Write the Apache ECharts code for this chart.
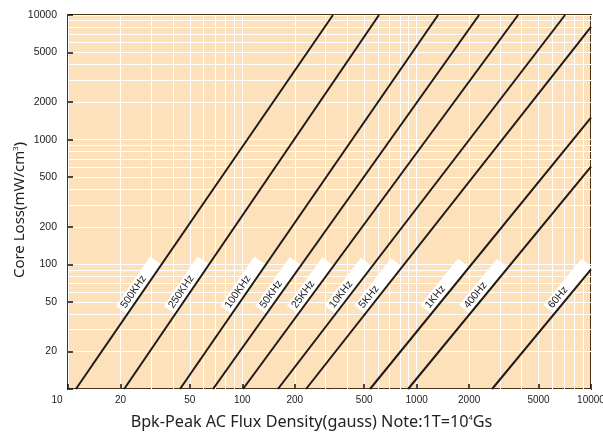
<!DOCTYPE html>
<html><head><meta charset="utf-8">
<script src="https://cdn.jsdelivr.net/npm/echarts@6/dist/echarts.min.js"></script>
<style>html,body{margin:0;padding:0;background:#fff}#c{width:603px;height:434px}</style>
</head><body><div id="c"></div>
<script>
// Frequency curves: each is a straight line in log-log space, given by its two ends
const freqLabels = ['500KHz','250KHz','100KHz','50KHz','25KHz','10KHz','5KHz','1KHz','400Hz','60Hz'];
const fluxStart = [11.1, 21.0, 43.9, 67.9, 100.9, 160, 232, 540, 893, 2707];   // gauss, at loss = 10
const lossStart = [10, 10, 10, 10, 10, 10, 10, 10, 10, 10];
const fluxEnd   = [331, 608, 1327, 2280, 3817, 7100, 10000, 10000, 10000, 10000];
const lossEnd   = [10000, 10000, 10000, 10000, 10000, 10000, 8020, 1500, 608, 91];
const labelLoss = 40; // loss level where the curve labels start

const xTickValues = [10, 20, 50, 100, 200, 500, 1000, 2000, 5000, 10000];
const yTickValues = [10, 20, 50, 100, 200, 500, 1000, 2000, 5000, 10000];
const yLabelValues = [20, 50, 100, 200, 500, 1000, 2000, 5000, 10000];
const gridMultipliers = [1, 2, 3, 4, 5, 6, 7, 8, 9];
const gridDecades = [10, 100, 1000];

const L = Math.log10;
const gridValues = [];
gridDecades.forEach(d => gridMultipliers.forEach(m => gridValues.push(L(d * m))));
gridValues.push(L(10000));

const fmt = v => String(Math.round(Math.pow(10, v)));
const chart = echarts.init(document.getElementById('c'), null, {renderer: 'canvas'});

const series = freqLabels.map((name, i) => ({
  name, type: 'line', xAxisIndex: 0, yAxisIndex: 0, symbol: 'none', silent: true,
  lineStyle: {color: '#1f1a17', width: 2},
  data: [[L(fluxStart[i]), L(lossStart[i])], [L(fluxEnd[i]), L(lossEnd[i])]]
}));

chart.setOption({
  animation: false,
  grid: {left: 68, right: 12, top: 15, bottom: 45, show: true, containLabel: false,
         outerBoundsMode: 'none',
         backgroundColor: '#fde1ba', borderColor: '#4a3418', borderWidth: 2},
  xAxis: [{
    type: 'value', min: 1, max: 4, position: 'bottom',
    name: 'Bpk-Peak AC Flux Density(gauss) Note:1T=10{sup|4}Gs',
    nameLocation: 'middle', nameGap: 25,
    nameTextStyle: {fontFamily: 'Noto Sans', fontSize: 16.2, color: '#222', padding: [0, 36, 0, 0],
      rich: {sup: {fontSize: 7.5, verticalAlign: 'top', padding: [0, 0, 9, 0], fontFamily: 'Noto Sans', color: '#222'}}},
    axisLine: {show: false},
    axisTick: {show: false, customValues: gridValues},
    splitLine: {show: true, lineStyle: {color: '#ffffff', width: 1}},
    axisLabel: {customValues: xTickValues.map(L), margin: 6,
      fontFamily: 'Liberation Sans', fontSize: 10, color: '#222',
      formatter: v => { const s = fmt(v); return s === '10' ? '{s|10}' : s; },
      rich: {s: {fontFamily: 'Liberation Sans', fontSize: 10, color: '#222', padding: [0, 22, 0, 0]}}}
  }, {
    type: 'value', min: 1, max: 4, position: 'bottom',
    axisLine: {show: false}, splitLine: {show: false}, axisLabel: {show: false},
    axisTick: {show: true, inside: true, length: 5, customValues: xTickValues.map(L),
      lineStyle: {color: '#111', width: 1.5}}
  }],
  yAxis: [{
    type: 'value', min: 1, max: 4, position: 'left',
    name: 'Core Loss(mW/cm{sup|3}){g|}', nameLocation: 'middle', nameGap: 40,
    nameMoveOverlap: false,
    nameTextStyle: {fontFamily: 'Noto Sans', fontSize: 15, color: '#222',
      rich: {sup: {fontSize: 7.5, verticalAlign: 'top', padding: [0, 0, 8, 0], fontFamily: 'Noto Sans', color: '#222'},
             g: {width: 16}}},
    axisLine: {show: false},
    axisTick: {show: false, customValues: gridValues},
    splitLine: {show: true, lineStyle: {color: '#ffffff', width: 1}},
    axisLabel: {customValues: yLabelValues.map(L), margin: 11,
      fontFamily: 'Liberation Sans', fontSize: 10.5, color: '#222', formatter: fmt}
  }, {
    type: 'value', min: 1, max: 4, position: 'left',
    axisLine: {show: false}, splitLine: {show: false}, axisLabel: {show: false},
    axisTick: {show: true, inside: true, length: 5, customValues: yTickValues.map(L),
      lineStyle: {color: '#111', width: 1.5}}
  }],
  series
});

// curve labels: white boxes rotated along each curve
const yT = chart.convertToPixel({xAxisIndex: 0, yAxisIndex: 0}, [1, L(labelLoss)])[1];
const graphics = freqLabels.map((name, i) => {
  const p0 = chart.convertToPixel({xAxisIndex: 0, yAxisIndex: 0}, [L(fluxStart[i]), L(lossStart[i])]);
  const p1 = chart.convertToPixel({xAxisIndex: 0, yAxisIndex: 0}, [L(fluxEnd[i]), L(lossEnd[i])]);
  const ang = Math.atan2(p0[1] - p1[1], p1[0] - p0[0]);
  const t = (p0[1] - yT) / (p0[1] - p1[1]);
  const ax = p0[0] + t * (p1[0] - p0[0]);
  return {
    type: 'group', x: ax, y: yT, rotation: ang, z: 100, silent: true,
    children: [
      {type: 'rect', shape: {x: 0, y: -14, width: 60, height: 13}, style: {fill: '#ffffff'}},
      {type: 'text', x: 3, y: -7.5, style: {text: name, fill: '#222', font: '10.5px "Liberation Sans"', verticalAlign: 'middle', align: 'left'}}
    ]
  };
});
chart.setOption({graphic: graphics});
</script>
</body></html>
